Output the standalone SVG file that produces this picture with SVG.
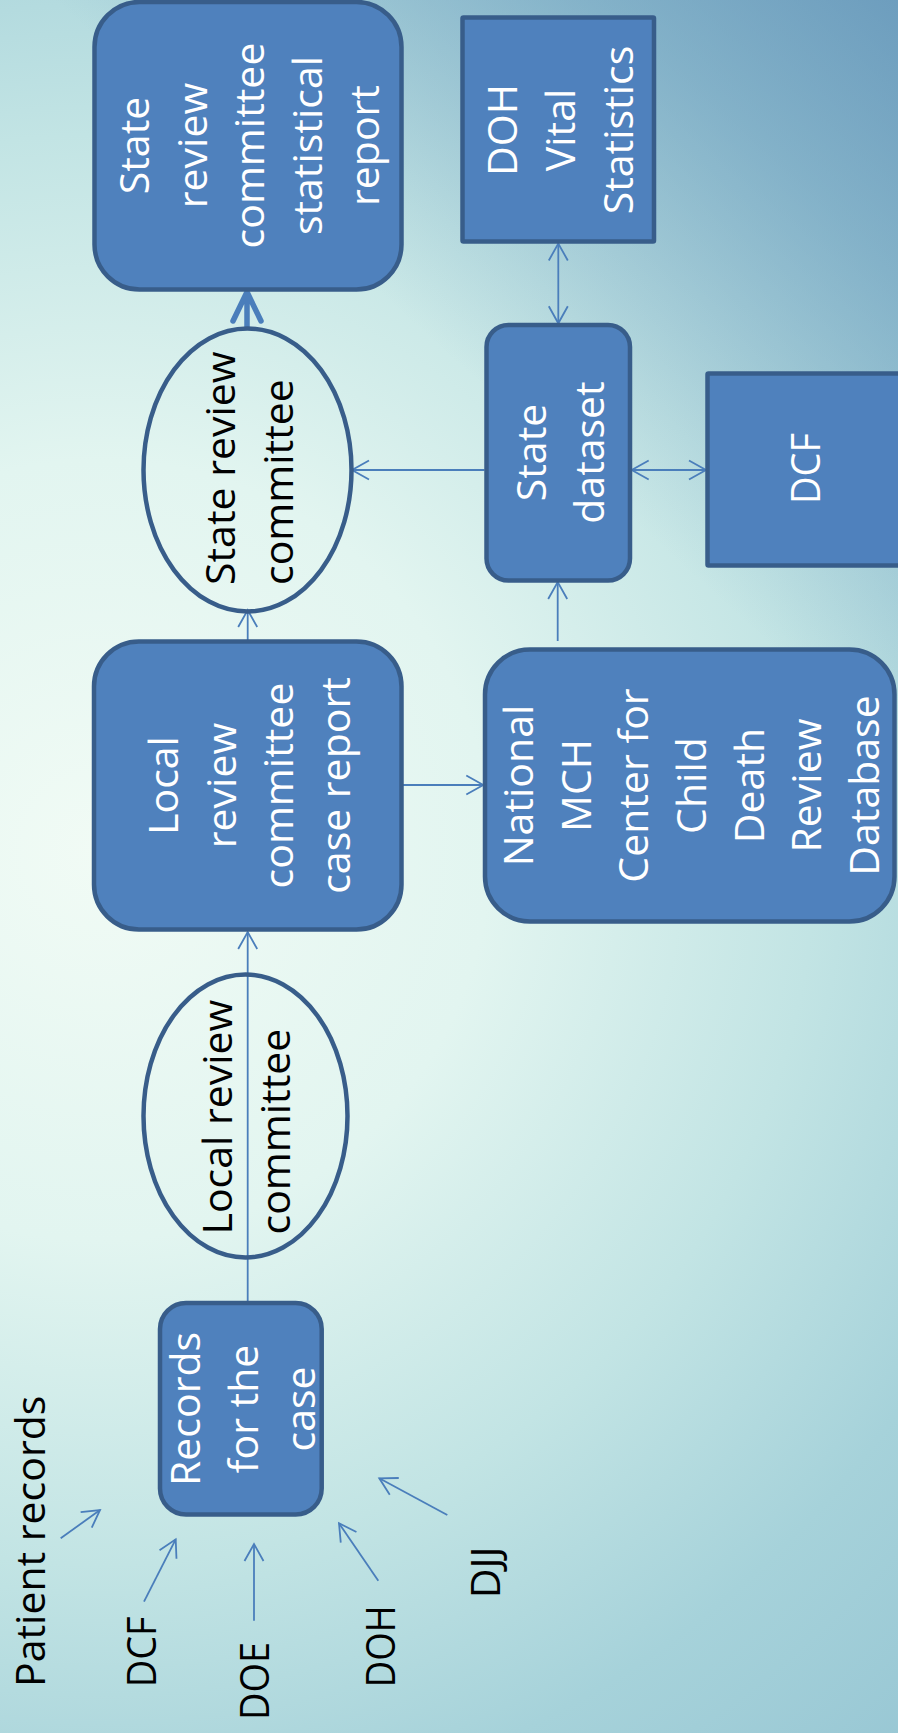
<svg xmlns="http://www.w3.org/2000/svg" width="898" height="1733" viewBox="0 0 898 1733">
<style>
.box{fill:#4F81BD;stroke:#385D8A;stroke-width:4.5}
.ell{fill:none;stroke:#385D8A;stroke-width:4.5}
.wt{fill:#FFFFFF;font-family:"Open Sans","Noto Sans",sans-serif;font-size:41px;text-anchor:middle}
.bt{fill:#000000;font-family:"Open Sans","Noto Sans",sans-serif;font-size:41px;text-anchor:start}
.ln{fill:none;stroke:#4A7EBB;stroke-width:1.8}
.one{marker-end:url(#ah)}
.two{marker-start:url(#ah);marker-end:url(#ah)}
</style>
<defs>
<radialGradient id="bg1" gradientUnits="userSpaceOnUse" cx="100" cy="850" r="1300">
<stop offset="0" stop-color="#F1FBF5"/>
<stop offset="0.3" stop-color="#E2F5F0"/>
<stop offset="0.55" stop-color="#C2E4E4"/>
<stop offset="0.75" stop-color="#A6D2DA"/>
<stop offset="1" stop-color="#93C3D2"/>
</radialGradient>
<linearGradient id="bg2" gradientUnits="userSpaceOnUse" x1="898" y1="0" x2="520" y2="420">
<stop offset="0" stop-color="#5E8FB6" stop-opacity="0.75"/>
<stop offset="1" stop-color="#5E8FB6" stop-opacity="0"/>
</linearGradient>
<marker id="ah" viewBox="-20 -12 24 24" refX="0" refY="0" markerWidth="24" markerHeight="24" markerUnits="userSpaceOnUse" orient="auto-start-reverse">
<path d="M-17,-9.5 L0,0 L-17,9.5" fill="none" stroke="#4A7EBB" stroke-width="1.8"/>
</marker>
</defs>
<rect x="0" y="0" width="898" height="1733" fill="url(#bg1)"/>
<rect x="0" y="0" width="898" height="1733" fill="url(#bg2)"/>

<g id="connectors">
<path class="ln one" d="M247.7,1303 L247.7,932"/>
<path class="ln one" d="M247.7,641 L247.7,610"/>
<path class="ln one" d="M403,785 L483.3,785"/>
<path class="ln one" d="M557.7,641 L557.7,582"/>
<path class="ln one" d="M484.5,470 L352,470"/>
<path class="ln two" d="M558.3,243.5 L558.3,323.3"/>
<path class="ln two" d="M631.7,470 L706,470"/>
<path d="M247,327 L247,293 M233,321 L247,292 L261,321" fill="none" stroke="#4A7EBB" stroke-width="5.5" stroke-linecap="round" stroke-linejoin="round"/>
<path class="ln one" d="M60.7,1538.3 L100,1510"/>
<path class="ln one" d="M144,1601.7 L175.7,1539.3"/>
<path class="ln one" d="M254,1620.7 L254,1544"/>
<path class="ln one" d="M378.3,1580.7 L339,1523.3"/>
<path class="ln one" d="M447.3,1515 L379.3,1478.3"/>
</g>

<g id="node-state-report">
<rect class="box" x="94.5" y="2" width="307" height="287.5" rx="45"/>
<text class="wt" transform="translate(149,145.5) rotate(-90)"><tspan x="0" y="0">State</tspan><tspan x="0" dy="57.5">review</tspan><tspan x="0" dy="57.5">committee</tspan><tspan x="0" dy="57.5">statistical</tspan><tspan x="0" dy="57.5">report</tspan></text>
</g>

<g id="node-doh-vital">
<rect class="box" x="462.5" y="17.5" width="191.5" height="224" rx="1"/>
<text class="wt" transform="translate(516.7,130) rotate(-90)"><tspan x="0" y="0">DOH</tspan><tspan x="0" dy="58">Vital</tspan><tspan x="0" dy="58">Statistics</tspan></text>
</g>

<g id="node-state-dataset">
<rect class="box" x="486.5" y="325" width="143.5" height="255.5" rx="22"/>
<text class="wt" transform="translate(546,452.5) rotate(-90)"><tspan x="0" y="0">State</tspan><tspan x="0" dy="57.5">dataset</tspan></text>
</g>

<g id="node-dcf-state">
<rect class="box" x="707.5" y="373.5" width="200" height="192" rx="1"/>
<text class="wt" transform="translate(819.7,468.5) rotate(-90)" textLength="71" lengthAdjust="spacingAndGlyphs">DCF</text>
</g>

<g id="node-state-committee">
<ellipse class="ell" cx="247.5" cy="470" rx="104" ry="141.5"/>
<text class="bt" transform="translate(235,585) rotate(-90)"><tspan x="0" y="0">State review</tspan><tspan x="0" dy="58">committee</tspan></text>
</g>

<g id="node-local-report">
<rect class="box" x="94" y="641.5" width="307.5" height="288" rx="45"/>
<text class="wt" transform="translate(178.3,785.5) rotate(-90)"><tspan x="0" y="0">Local</tspan><tspan x="0" dy="57.3">review</tspan><tspan x="0" dy="57.3">committee</tspan><tspan x="0" dy="57.3">case report</tspan></text>
</g>

<g id="node-national">
<rect class="box" x="485" y="649.5" width="409.5" height="272" rx="45"/>
<text class="wt" transform="translate(533.3,785.5) rotate(-90)"><tspan x="0" y="0">National</tspan><tspan x="0" dy="57.6">MCH</tspan><tspan x="0" dy="57.6">Center for</tspan><tspan x="0" dy="57.6">Child</tspan><tspan x="0" dy="57.6">Death</tspan><tspan x="0" dy="57.6">Review</tspan><tspan x="0" dy="57.6">Database</tspan></text>
</g>

<g id="node-local-committee">
<ellipse class="ell" cx="245.5" cy="1116" rx="102" ry="141.5"/>
<text class="bt" transform="translate(231.7,1234.5) rotate(-90)"><tspan x="0" y="0">Local review</tspan><tspan x="0" dy="58.3">committee</tspan></text>
</g>

<g id="node-records">
<rect class="box" x="160" y="1303" width="161.7" height="211.5" rx="26"/>
<text class="wt" transform="translate(200,1409) rotate(-90)"><tspan x="0" y="0">Records</tspan><tspan x="0" dy="57.5">for the</tspan><tspan x="0" dy="57.5">case</tspan></text>
</g>

<g id="label-patient-records">
<text class="bt" transform="translate(45,1687) rotate(-90)">Patient records</text>
</g>
<g id="label-dcf">
<text class="bt" transform="translate(156,1687.3) rotate(-90)" textLength="71" lengthAdjust="spacingAndGlyphs">DCF</text>
</g>
<g id="label-doe">
<text class="bt" transform="translate(269.3,1720) rotate(-90)" textLength="78" lengthAdjust="spacingAndGlyphs">DOE</text>
</g>
<g id="label-doh">
<text class="bt" transform="translate(395,1687.3) rotate(-90)" textLength="82" lengthAdjust="spacingAndGlyphs">DOH</text>
</g>
<g id="label-djj">
<text class="bt" transform="translate(500,1598.3) rotate(-90)">DJJ</text>
</g>
</svg>
